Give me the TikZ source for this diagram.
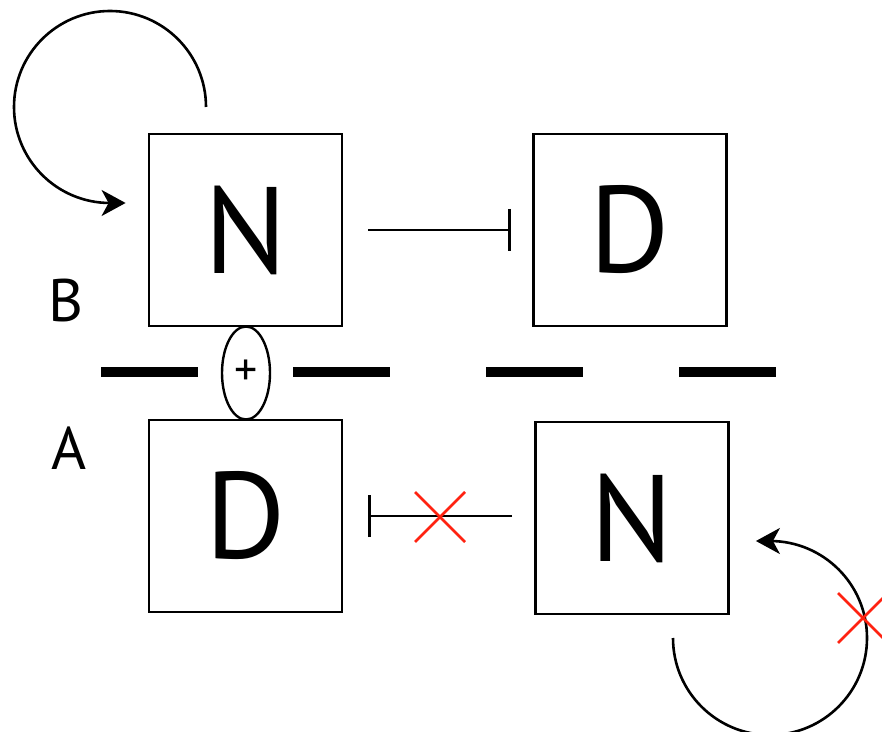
\documentclass[tikz,border=0pt]{standalone}
\usepackage{fontspec}
\setmainfont{PT Sans}
\usetikzlibrary{arrows.meta,shapes.geometric}
\definecolor{xred}{RGB}{255,34,17}
\newcommand\crossmark[1]{\draw[xred,line width=2.6pt] ([shift={(-25pt,-25pt)}]#1) -- ([shift={(25pt,25pt)}]#1) ([shift={(-25pt,25pt)}]#1) -- ([shift={(25pt,-25pt)}]#1);}

\begin{document}
\begin{tikzpicture}[x=1pt,y=1pt,
  genebox/.style={draw,line width=2.8pt,minimum width=193pt,minimum height=192pt,inner sep=0pt,font=\fontsize{123}{123}\selectfont},
  cellname/.style={font=\fontsize{60}{60}\selectfont},
  inhib/.style={line width=2.4pt,-{Bar[width=42pt,line width=3pt]}},
  loopy/.style={line width=2.6pt,-{Stealth[length=24pt,width=26pt,inset=7pt]}}]
  \useasboundingbox (0,0) rectangle (882,731);
  \node[genebox] (nB) at (245.5,501) {N};
  \node[genebox] (dB) at (630,501) {D};
  \node[genebox] (dA) at (245.5,215) {D};
  \node[genebox] (nA) at (632,213) {N};
  \node[cellname] (cB) at (66,430) {B};
  \node[cellname] (cA) at (69,283) {A};
  \foreach \x in {101,293,486,679}
    \fill (\x,354) rectangle ++(97,10);
  \node[draw,ellipse,line width=2.4pt,fill=white,minimum width=48pt,minimum height=93pt,inner sep=0pt,font=\fontsize{46}{46}\selectfont] (plus) at (246,358) {+};
  \draw[inhib,shorten <=25pt,shorten >=21pt] (nB) -- (dB);
  \draw[inhib,shorten <=22pt,shorten >=25pt] (nA.west |- dA) -- (dA);
  \coordinate (xA) at (440,214);
  \crossmark{xA}
  \coordinate (loopB) at (206,624);
  \draw[loopy] (loopB) arc[start angle=0,end angle=270,radius=96pt] -- ([xshift=-22pt,yshift=27pt]nB.west);
  \coordinate (loopA) at (673,93);
  \draw[loopy] (loopA) arc[start angle=180,end angle=450,radius=97pt] -- ([xshift=26pt,yshift=-23pt]nA.east);
  \coordinate (xB) at (863,113);
  \crossmark{xB}
\end{tikzpicture}
\end{document}
